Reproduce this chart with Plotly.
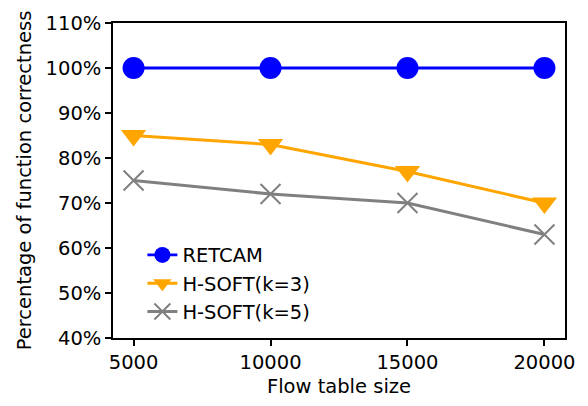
import plotly.graph_objects as go

sizes = [5000, 10000, 15000, 20000]
retcam = [100, 100, 100, 100]
hsoft3 = [85, 83, 77, 70]
hsoft5 = [75, 72, 70, 63]
y_ticks = [40, 50, 60, 70, 80, 90, 100, 110]
x_ticks = [5000, 10000, 15000, 20000]

FONT = dict(family="DejaVu Sans", size=19.5, color="black")

fig = go.Figure()
fig.add_trace(go.Scatter(x=sizes, y=retcam, name="RETCAM", mode="lines+markers",
                         line=dict(color="#0000ff", width=3),
                         marker=dict(symbol="circle", size=22, color="#0000ff")))
fig.add_trace(go.Scatter(x=sizes, y=hsoft3, name="H-SOFT(k=3)", mode="lines+markers",
                         line=dict(color="#ffa500", width=3),
                         marker=dict(symbol="triangle-down", size=22, color="#ffa500")))
fig.add_trace(go.Scatter(x=sizes, y=hsoft5, name="H-SOFT(k=5)", mode="lines+markers",
                         line=dict(color="#808080", width=3),
                         marker=dict(symbol="x-thin", size=20, color="#808080",
                                     line=dict(color="#808080", width=2))))

fig.update_layout(
    width=588, height=406,
    margin=dict(l=113, r=23, t=23, b=64),
    paper_bgcolor="white", plot_bgcolor="white",
    font=FONT,
    showlegend=True,
    legend=dict(x=0.065, y=0.02, xanchor="left", yanchor="bottom",
                bgcolor="rgba(0,0,0,0)", font=FONT, itemsizing="trace",
                tracegroupgap=0),
)
fig.update_xaxes(range=[4250, 20750], tickvals=x_ticks, ticktext=[str(v) for v in x_ticks],
                 showgrid=False, zeroline=False, showline=True, linecolor="black",
                 linewidth=1.5, mirror=True, ticks="outside", ticklen=6, tickwidth=1.5,
                 tickcolor="black", title=dict(text="Flow table size", font=FONT, standoff=6))
fig.update_yaxes(range=[40, 110], tickvals=y_ticks, ticktext=[f"{v}%" for v in y_ticks],
                 showgrid=False, zeroline=False, showline=True, linecolor="black",
                 linewidth=1.5, mirror=True, ticks="outside", ticklen=6, tickwidth=1.5,
                 tickcolor="black",
                 title=dict(text="Percentage of function correctness", font=FONT, standoff=9))

fig.write_html("out.html")
